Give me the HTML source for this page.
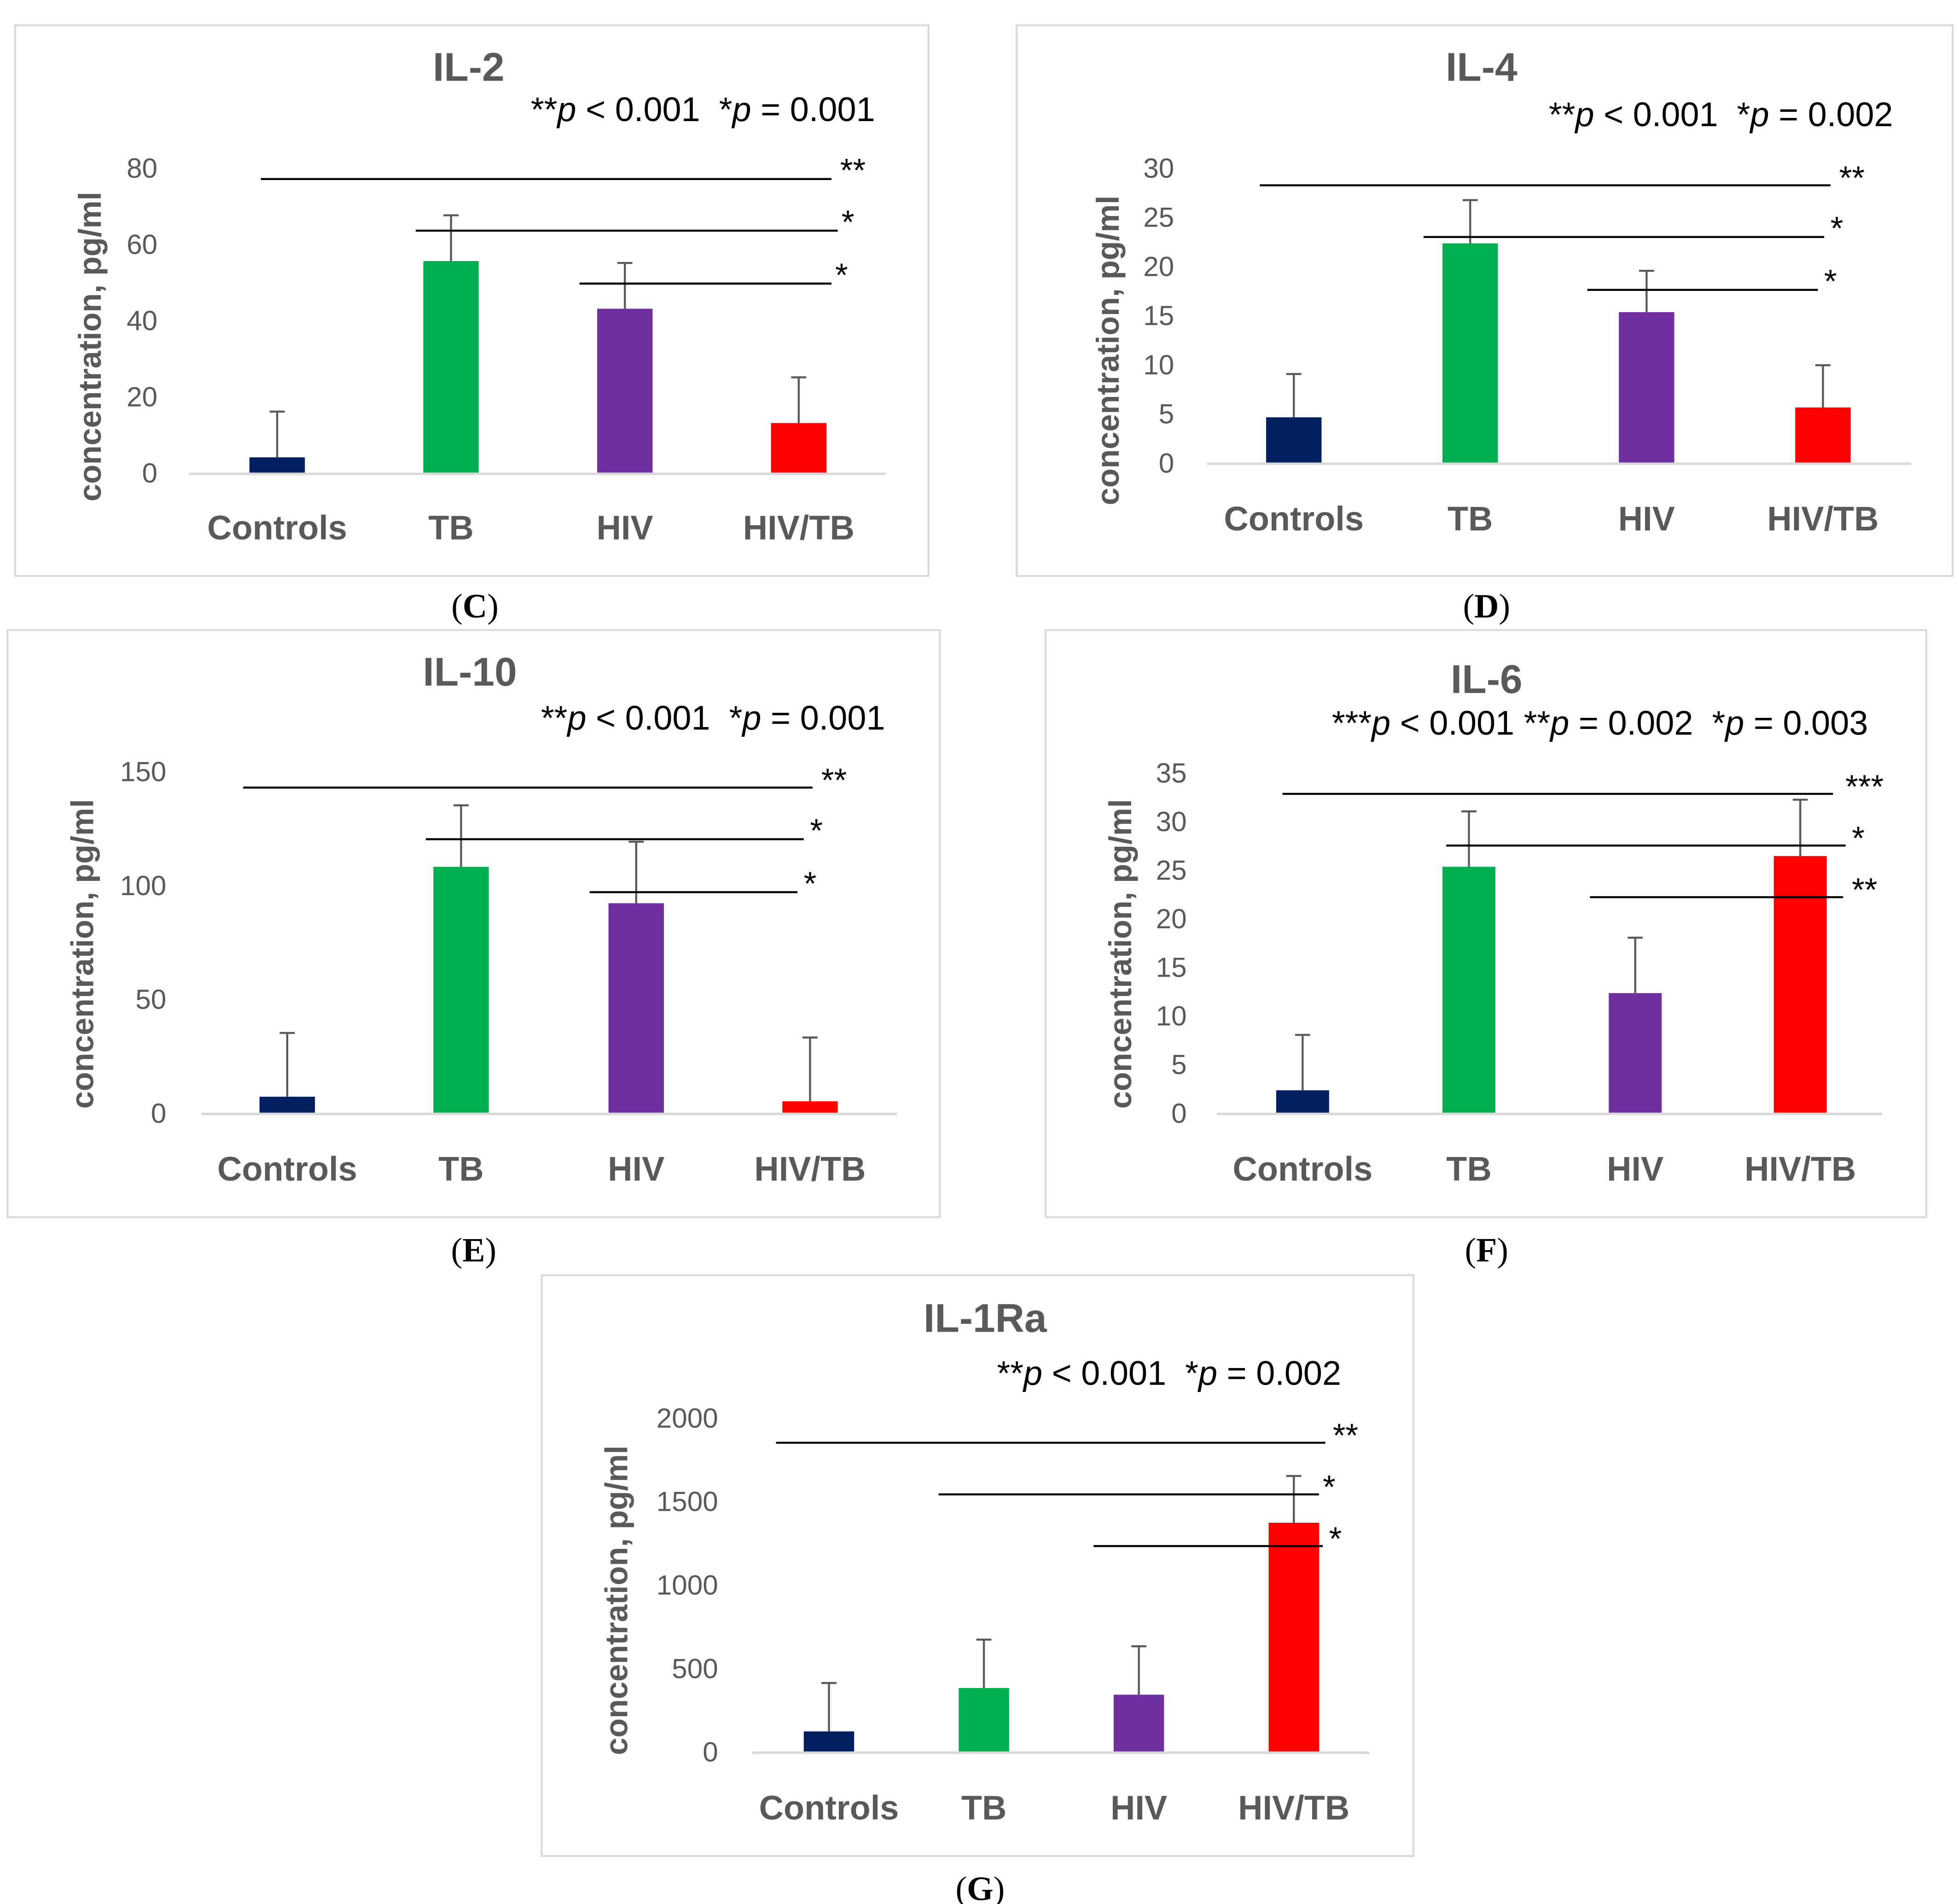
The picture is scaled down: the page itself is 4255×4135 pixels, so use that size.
<!DOCTYPE html>
<html><head><meta charset="utf-8"><style>
html,body{margin:0;padding:0;background:#fff}
svg{display:block}
text{font-family:"Liberation Sans",sans-serif}
text.cap{font-family:"Liberation Serif",serif}
</style></head><body>
<svg id="fig" width="4255" height="4135" viewBox="0 0 1555 1511" xmlns="http://www.w3.org/2000/svg"></svg>
<script>
const categories = ["Controls","TB","HIV","HIV/TB"];
const colors = ["#002060","#00B050","#7030A0","#FF0000"];
const il2Values = [4,55.5,43,13];      const il2Err = [16,67.5,55,25];
const il4Values = [4.6,22.3,15.3,5.6]; const il4Err = [9,26.7,19.5,9.9];
const il10Values = [7,108,92,5];       const il10Err = [35,135,119,33];
const il6Values = [2.3,25.3,12.3,26.4];const il6Err = [8,31,18,32.2];
const il1raValues = [120,380,340,1370];const il1raErr = [410,670,630,1650];
const il2Ticks = [0,20,40,60,80];
const il4Ticks = [0,5,10,15,20,25,30];
const il10Ticks = [0,50,100,150];
const il6Ticks = [0,5,10,15,20,25,30,35];
const il1raTicks = [0,500,1000,1500,2000];

const panels = [
 {id:"il-2",title:"IL-2",cap:"C",values:il2Values,err:il2Err,ticks:il2Ticks,max:80,
  box:[12,20,725,437],tx:372,ty:64,ptext:"**p < 0.001\u00a0\u00a0*p = 0.001",px:558,py:96,
  y0:375,ymax:133,x0:150,x1:703,cats:[220,358,496,634],bw:44,tickX:125,catY:428,ytX:80,ytY:275,
  sig:[[142,207,660,"**",677,132],[183,330,665,"*",673,173],[225,460,660,"*",668,215]],capX:377,capY:490},
 {id:"il-4",title:"IL-4",cap:"D",values:il4Values,err:il4Err,ticks:il4Ticks,max:30,
  box:[807,20,743,437],tx:1176,ty:64,ptext:"**p < 0.001\u00a0\u00a0*p = 0.002",px:1366,py:100,
  y0:367,ymax:133,x0:958,x1:1517,cats:[1027,1167,1307,1447],bw:44,tickX:932,catY:421,ytX:888,ytY:278,
  sig:[[147,1000,1453,"**",1470,138],[188,1130,1448,"*",1458,178],[230,1260,1443,"*",1453,220]],capX:1180,capY:490},
 {id:"il-10",title:"IL-10",cap:"E",values:il10Values,err:il10Err,ticks:il10Ticks,max:150,
  box:[6,500,740,466],tx:373,ty:544,ptext:"**p < 0.001\u00a0\u00a0*p = 0.001",px:566,py:579,
  y0:883,ymax:612,x0:160,x1:712,cats:[228,366,505,643],bw:44,tickX:132,catY:937,ytX:74,ytY:757,
  sig:[[625,193,645,"**",662,616],[666,338,638,"*",648,656],[708,468,633,"*",643,698]],capX:376,capY:1001},
 {id:"il-6",title:"IL-6",cap:"F",values:il6Values,err:il6Err,ticks:il6Ticks,max:35,
  box:[830,500,699,466],tx:1180,ty:550,ptext:"***p < 0.001 **p = 0.002\u00a0\u00a0*p = 0.003",px:1270,py:583,
  y0:883,ymax:613,x0:966,x1:1494,cats:[1034,1166,1298,1429],bw:42,tickX:942,catY:937,ytX:898,ytY:757,
  sig:[[630,1018,1455,"***",1480,621],[671,1148,1465,"*",1475,662],[712,1262,1463,"**",1480,703]],capX:1180,capY:1001},
 {id:"il-1ra",title:"IL-1Ra",cap:"G",values:il1raValues,err:il1raErr,ticks:il1raTicks,max:2000,
  box:[430,1012,692,461],tx:782,ty:1057,ptext:"**p < 0.001\u00a0\u00a0*p = 0.002",px:928,py:1099,
  y0:1390,ymax:1125,x0:597,x1:1087,cats:[658,781,904,1027],bw:40,tickX:570,catY:1444,ytX:498,ytY:1270,
  sig:[[1145,616,1052,"**",1068,1136],[1186,745,1047,"*",1055,1177],[1227,868,1050,"*",1060,1218]],capX:778,capY:1508}
];
const NS="http://www.w3.org/2000/svg";
const svg=document.getElementById("fig");
function mk(tag,attrs,parent,txt){const e=document.createElementNS(NS,tag);for(const k in attrs)e.setAttribute(k,attrs[k]);if(txt!==undefined)e.textContent=txt;parent.appendChild(e);return e;}
panels.forEach(p=>{
  const g=mk("g",{},svg);
  
  
  const yS=v=>p.y0-(v/p.max)*(p.y0-p.ymax);
  const b=mk("rect",{x:p.box[0],y:p.box[1],width:p.box[2],height:p.box[3],fill:"#fff",stroke:"#d9d9d9","stroke-width":1.5},g);
  
  
  const t=mk("text",{x:p.tx,y:p.ty,"text-anchor":"middle","font-size":32,"font-weight":"bold",fill:"#595959"},g,p.title);
  
  
  const pt=mk("text",{x:p.px,y:p.py,"text-anchor":"middle","font-size":27,fill:"#000"},g);
  
  
  p.ptext.split(/(p)/).forEach(s=>{mk("tspan",s==="p"?{"font-style":"italic"}:{},pt,s);});
  p.ticks.forEach(v=>{
    const tk=mk("text",{x:p.tickX,y:yS(v)+8,"text-anchor":"end","font-size":22,fill:"#595959"},g,String(v));
    
    
  });
  const yt=mk("text",{x:0,y:0,"text-anchor":"middle","font-size":25,"font-weight":"bold",fill:"#595959",transform:`translate(${p.ytX},${p.ytY}) rotate(-90)`},g,"concentration, pg/ml");
  
  
  const ax=mk("line",{x1:p.x0,x2:p.x1,y1:p.y0+1,y2:p.y0+1,stroke:"#d9d9d9","stroke-width":2},g);
  
  
  categories.forEach((c,i)=>{
    const cx=p.cats[i];
    const bar=mk("rect",{x:cx-p.bw/2,y:yS(p.values[i]),width:p.bw,height:p.y0-yS(p.values[i]),fill:colors[i]},g);
    
    
    const e=mk("path",{d:`M${cx},${yS(p.values[i])}V${yS(p.err[i])}M${cx-6},${yS(p.err[i])}H${cx+6}`,stroke:"#595959","stroke-width":1.6,fill:"none"},g);
    
    
    const cl=mk("text",{x:cx,y:p.catY,"text-anchor":"middle","font-size":27,"font-weight":"bold",fill:"#595959"},g,c);
    
    
  });
  p.sig.forEach(s=>{
    const l=mk("line",{x1:s[1],x2:s[2],y1:s[0],y2:s[0],stroke:"#000","stroke-width":1.6},g);
    
    
    const st=mk("text",{x:s[4],y:s[5]+12,"text-anchor":"middle","font-size":26,fill:"#000"},g,s[3]);
    
    
  });
  const cap=mk("text",{x:p.capX,y:p.capY,"text-anchor":"middle","font-size":27,fill:"#000","class":"cap"},g);
  
  
  mk("tspan",{},cap,"(");mk("tspan",{"font-weight":"bold"},cap,p.cap);mk("tspan",{},cap,")");
});
</script>
</body></html>
